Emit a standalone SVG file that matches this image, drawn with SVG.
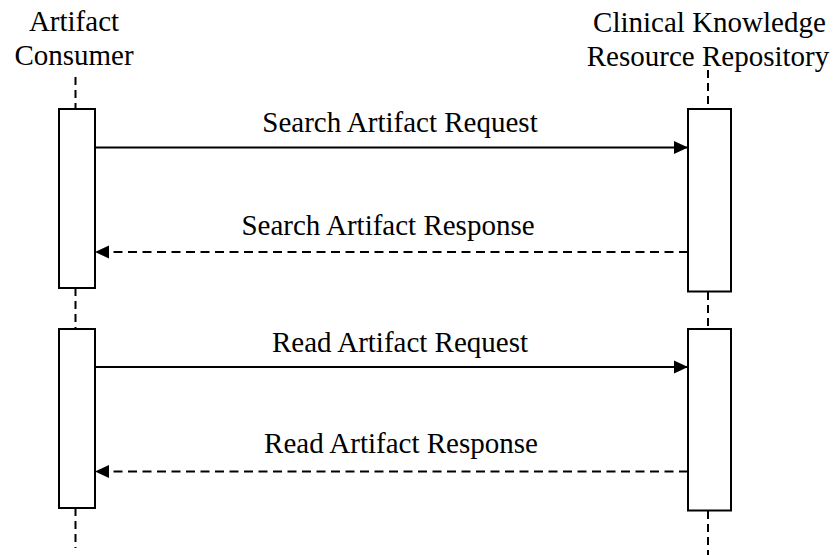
<svg xmlns="http://www.w3.org/2000/svg" width="835" height="555" viewBox="0 0 835 555">
  <style>
    .label { font-family: "Liberation Serif", "Times New Roman", serif; font-size: 29px; fill: #000; text-anchor: middle; }
    .lifeline { stroke: #000; stroke-width: 2; stroke-dasharray: 8 5; fill: none; }
    .activation { fill: #fff; stroke: #000; stroke-width: 2; }
    .msg { stroke: #000; stroke-width: 2; fill: none; }
    .reply { stroke: #000; stroke-width: 2; fill: none; stroke-dasharray: 9 5.5; }
  </style>
  <defs>
    <marker id="head" markerUnits="userSpaceOnUse" markerWidth="16" markerHeight="14" refX="15" refY="7" orient="auto">
      <path d="M1,0.5 L15,7 L1,13.5 Z" fill="#000"/>
    </marker>
  </defs>
  <rect width="835" height="555" fill="#fff"/>

  <!-- Participant: Artifact Consumer -->
  <g id="consumer">
    <text class="label" x="74" y="31">Artifact</text>
    <text class="label" x="74" y="65">Consumer</text>
    <path class="lifeline" d="M75.5,77 V109 M75.5,288 V329 M75.5,508 V548"/>
    <rect class="activation" x="59" y="109" width="36" height="179"/>
    <rect class="activation" x="59" y="329" width="36" height="179"/>
  </g>

  <!-- Participant: Clinical Knowledge Resource Repository -->
  <g id="repository">
    <path class="lifeline" d="M708,70 V109 M708,292 V329 M708,511 V555"/>
    <text class="label" x="709.5" y="32">Clinical Knowledge</text>
    <text class="label" x="708" y="66">Resource Repository</text>
    <rect class="activation" x="688" y="109" width="43" height="182.5"/>
    <rect class="activation" x="688" y="329" width="43" height="181.5"/>
  </g>

  <!-- Messages -->
  <g id="messages">
    <line class="msg" x1="95" y1="147.5" x2="688" y2="147.5" marker-end="url(#head)"/>
    <text class="label" x="400" y="132">Search Artifact Request</text>

    <line class="reply" x1="688" y1="252" x2="95" y2="252" marker-end="url(#head)"/>
    <text class="label" x="388" y="235">Search Artifact Response</text>

    <line class="msg" x1="95" y1="367" x2="688" y2="367" marker-end="url(#head)"/>
    <text class="label" x="400" y="352">Read Artifact Request</text>

    <line class="reply" x1="688" y1="471.5" x2="95" y2="471.5" marker-end="url(#head)"/>
    <text class="label" x="401" y="453">Read Artifact Response</text>
  </g>
</svg>
